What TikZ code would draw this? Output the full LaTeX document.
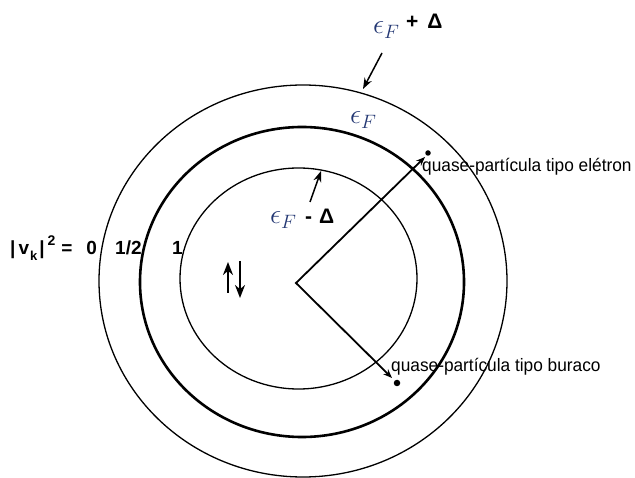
\documentclass[tikz,border=0pt]{standalone}
\usepackage{fontspec}
\usetikzlibrary{arrows.meta}
\newfontfamily\labfont[FakeStretch=0.96]{Liberation Sans}
\newfontfamily\bsans{Liberation Sans}
\definecolor{epscol}{RGB}{35,55,115}
\begin{document}
\begin{tikzpicture}[x=1pt,y=-1pt,
  thinring/.style={line width=1.3pt},
  thickring/.style={line width=2.6pt},
  ray/.style={line width=1.8pt,line join=miter,{Stealth[length=9pt,width=7pt]}-{Stealth[length=9pt,width=7pt]}},
  pointer/.style={line width=1.5pt,-{Stealth[length=11pt,width=8pt]}},
  spin/.style={line width=2.2pt,-{Stealth[length=13pt,width=10pt]}},
  dotmark/.style={circle,fill,inner sep=0pt},
  eps/.style={inner sep=0pt,text=epscol,font=\fontsize{24}{26}\selectfont},
  boldlab/.style={inner sep=0pt,font=\bsans\bfseries\fontsize{21}{24}\selectfont},
  vlab/.style={inner sep=0pt,font=\bsans\bfseries\fontsize{19}{22}\selectfont},
  qlab/.style={inner sep=0pt,font=\labfont\fontsize{18}{20}\selectfont},
]
\useasboundingbox (0,0) rectangle (635,478);
\fill[white] (0,0) rectangle (635,478);
% rings
\draw[thinring] (303,281) ellipse [x radius=204pt, y radius=196pt];
\draw[thickring] (302,282) ellipse [x radius=162pt, y radius=155pt];
\draw[thinring] (298.5,278.5) ellipse [x radius=118.5pt, y radius=110.5pt];
% rays to quasi-particles
\coordinate (V) at (296,283);
\coordinate (etip) at (425,157);
\coordinate (htip) at (392,378);
\node[dotmark,minimum size=5.5pt] (edot) at (428,153) {};
\node[dotmark,minimum size=6.5pt] (hdot) at (397,383) {};
\draw[ray] (etip) -- (V) -- (htip);
% labels of the rings
\node[eps,anchor=base west] (epsTop) at (373,34) {\scalebox{1.12}{$\epsilon_F$}};
\node[boldlab,anchor=base west] (plusD) at (406,29) {+\hspace{9pt}Δ};
\node[eps,anchor=base west] (epsMid) at (350,124) {\scalebox{1.12}{$\epsilon_F$}};
\node[eps,anchor=base west] (epsBot) at (270,224) {\scalebox{1.12}{$\epsilon_F$}};
\node[boldlab,anchor=base west] (minusD) at (305,224) {-\hspace{7pt}Δ};
\coordinate (p1s) at (382,53);
\coordinate (p1e) at (363,89);
\draw[pointer] (p1s) -- (p1e);
\coordinate (p2s) at (310,202);
\coordinate (p2e) at (321,171);
\draw[pointer] (p2s) -- (p2e);
% occupation labels
\node[vlab,anchor=base west] (vk) at (10,255) {|\hspace{3pt}v\hspace{1pt}\raisebox{-6pt}{\fontsize{13}{13}\selectfont k}\hspace{2pt}|\hspace{3pt}\raisebox{9pt}{\fontsize{14}{14}\selectfont 2}\hspace{6pt}=\hspace{14pt}0};
\node[vlab,anchor=base west] (half) at (115,255) {1/2};
\node[vlab,anchor=base west] (one) at (172,255) {1};
% spins
\coordinate (us) at (228,293);
\coordinate (ue) at (228,262);
\coordinate (ds) at (240,261);
\coordinate (de) at (240,298);
\draw[spin] (us) -- (ue);
\draw[spin] (ds) -- (de);
% quasi-particle labels
\node[qlab,anchor=base west] (elab) at (422,172) {quase-partícula tipo elétron};
\node[qlab,anchor=base west] (hlab) at (391,372) {quase-partícula tipo buraco};
\end{tikzpicture}
\end{document}
